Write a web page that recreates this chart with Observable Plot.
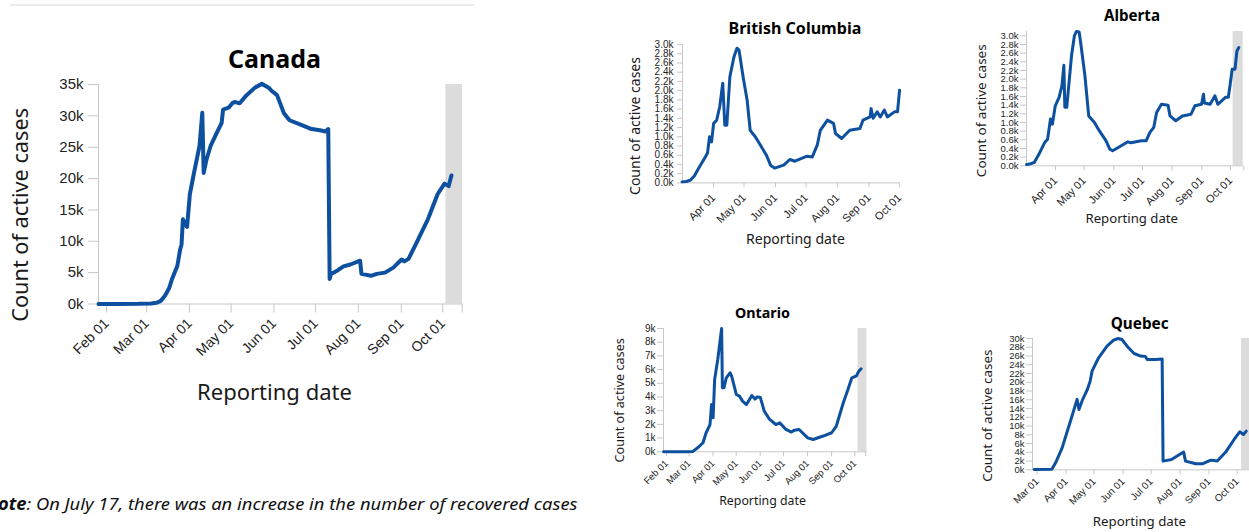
<!DOCTYPE html>
<html><head><meta charset="utf-8">
<script src="https://cdn.jsdelivr.net/npm/d3@7"></script>
<script src="https://cdn.jsdelivr.net/npm/@observablehq/plot@0.6"></script>
<style>
html,body{margin:0;padding:0;width:1249px;height:532px;overflow:hidden;background:#fff;position:relative}
.t{position:absolute;white-space:nowrap;line-height:1;transform-origin:center center}
svg g[aria-label$="-axis tick"]{stroke:#c8c8c8}
svg.plot{background:transparent !important}
</style></head><body>
<script>
// ---------- data ----------
const canadaDates = ["2020-02-01","2020-02-15","2020-03-01","2020-03-10","2020-03-14","2020-03-17","2020-03-20","2020-03-23","2020-03-25","2020-03-29","2020-03-31","2020-04-01","2020-04-02","2020-04-03","2020-04-05","2020-04-07","2020-04-10","2020-04-14","2020-04-16","2020-04-17","2020-04-19","2020-04-22","2020-04-26","2020-04-30","2020-05-01","2020-05-05","2020-05-08","2020-05-10","2020-05-13","2020-05-18","2020-05-24","2020-05-29","2020-06-03","2020-06-05","2020-06-09","2020-06-14","2020-06-18","2020-06-26","2020-07-04","2020-07-10","2020-07-14","2020-07-16","2020-07-17","2020-07-18","2020-07-23","2020-07-27","2020-08-01","2020-08-08","2020-08-09","2020-08-16","2020-08-20","2020-08-26","2020-09-01","2020-09-07","2020-09-09","2020-09-12","2020-09-19","2020-09-20","2020-09-26","2020-10-03","2020-10-08","2020-10-11","2020-10-13"];
const canadaCases = [4,7,24,80,200,500,1300,2500,3900,6100,8700,9500,13500,13000,12300,17500,20900,25200,30500,20900,23000,25200,27100,28900,31000,31300,32100,32200,32000,33300,34500,35100,34500,34000,33300,30400,29300,28600,27900,27700,27500,27900,4000,4800,5400,6000,6300,6900,4800,4500,4800,5000,5800,7100,6800,7200,10300,10800,13500,17500,19200,18800,20500];

const bcDates = ["2020-03-06","2020-03-10","2020-03-14","2020-03-18","2020-03-21","2020-03-24","2020-03-28","2020-03-31","2020-04-02","2020-04-04","2020-04-06","2020-04-09","2020-04-12","2020-04-15","2020-04-17","2020-04-19","2020-04-22","2020-04-26","2020-04-29","2020-05-01","2020-05-05","2020-05-09","2020-05-12","2020-05-17","2020-05-22","2020-05-28","2020-06-01","2020-06-05","2020-06-14","2020-06-20","2020-06-25","2020-07-07","2020-07-12","2020-07-17","2020-07-20","2020-07-27","2020-08-02","2020-08-04","2020-08-10","2020-08-18","2020-08-28","2020-08-31","2020-09-07","2020-09-08","2020-09-10","2020-09-14","2020-09-17","2020-09-21","2020-09-24","2020-10-01","2020-10-04","2020-10-06"];
const bcCases = [22,30,58,150,270,384,529,650,1000,890,1290,1360,1650,2160,1250,1250,2300,2730,2920,2880,2300,1790,1140,1000,820,600,384,320,384,507,470,578,560,817,1140,1360,1290,1070,963,1140,1180,1360,1430,1610,1400,1540,1430,1580,1430,1540,1540,2010];

const abDates = ["2020-03-07","2020-03-10","2020-03-15","2020-03-20","2020-03-26","2020-03-29","2020-04-01","2020-04-03","2020-04-06","2020-04-10","2020-04-13","2020-04-15","2020-04-16","2020-04-18","2020-04-23","2020-04-26","2020-04-28","2020-05-01","2020-05-03","2020-05-07","2020-05-11","2020-05-17","2020-05-22","2020-05-29","2020-06-02","2020-06-05","2020-06-14","2020-06-21","2020-06-24","2020-07-05","2020-07-10","2020-07-14","2020-07-18","2020-07-21","2020-07-26","2020-08-02","2020-08-04","2020-08-10","2020-08-17","2020-08-26","2020-08-30","2020-09-06","2020-09-08","2020-09-09","2020-09-15","2020-09-20","2020-09-23","2020-10-01","2020-10-04","2020-10-06","2020-10-08","2020-10-11","2020-10-13","2020-10-15"];
const abCases = [30,40,76,270,540,615,1080,960,1385,1580,1850,2320,1350,1350,2540,3000,3100,3090,2770,2080,1150,1000,810,580,385,346,462,554,530,577,577,770,885,1230,1420,1400,1150,1040,1150,1190,1385,1420,1650,1450,1420,1615,1420,1580,1580,1890,2230,2230,2650,2730];

const onDates = ["2020-02-01","2020-03-01","2020-03-10","2020-03-16","2020-03-23","2020-03-27","2020-04-01","2020-04-03","2020-04-05","2020-04-07","2020-04-11","2020-04-16","2020-04-17","2020-04-19","2020-04-22","2020-04-27","2020-04-29","2020-05-05","2020-05-09","2020-05-13","2020-05-18","2020-05-25","2020-05-29","2020-06-01","2020-06-05","2020-06-10","2020-06-17","2020-06-25","2020-06-30","2020-07-08","2020-07-15","2020-07-19","2020-07-25","2020-08-05","2020-08-12","2020-08-25","2020-09-05","2020-09-11","2020-09-20","2020-09-26","2020-10-01","2020-10-07","2020-10-10","2020-10-13"];
const onCases = [2,10,30,290,660,1390,1990,3450,2480,5280,6740,9000,4670,4670,5400,5770,5500,4180,4060,3700,3450,4110,3850,4010,3960,2970,2360,1990,2110,1630,1440,1580,1630,1020,900,1150,1390,1880,3580,4550,5400,5550,5890,6060];

const qcDates = ["2020-03-01","2020-03-20","2020-03-24","2020-03-31","2020-04-05","2020-04-10","2020-04-16","2020-04-18","2020-04-22","2020-04-27","2020-04-30","2020-05-02","2020-05-09","2020-05-18","2020-05-25","2020-05-30","2020-06-03","2020-06-10","2020-06-16","2020-06-23","2020-06-28","2020-06-30","2020-07-09","2020-07-16","2020-07-17","2020-07-26","2020-08-08","2020-08-10","2020-08-21","2020-08-28","2020-09-06","2020-09-13","2020-09-22","2020-10-01","2020-10-07","2020-10-11","2020-10-14"];
const qcCases = [50,150,1600,5000,8450,11900,16100,13800,16100,18350,20260,22550,25600,28260,29630,30000,29770,27870,26570,25980,25900,25200,25200,25300,1980,2360,4050,1980,1370,1370,2210,2000,4050,6930,8680,8070,8840];

const monthTicksFeb = ["2020-02-01","2020-03-01","2020-04-01","2020-05-01","2020-06-01","2020-07-01","2020-08-01","2020-09-01","2020-10-01"];
const monthTicksMar = ["2020-03-01","2020-04-01","2020-05-01","2020-06-01","2020-07-01","2020-08-01","2020-09-01","2020-10-01"];
const monthTicksApr = ["2020-04-01","2020-05-01","2020-06-01","2020-07-01","2020-08-01","2020-09-01","2020-10-01"];
const unlabeledTick = "2020-10-15";
const shadeStart = "2020-10-09";

const canadaYTicks = [0,5000,10000,15000,20000,25000,30000,35000];
const smallYTicks = [0,200,400,600,800,1000,1200,1400,1600,1800,2000,2200,2400,2600,2800,3000];
const onYTicks = [0,1000,2000,3000,4000,5000,6000,7000,8000,9000];
const qcYTicks = [0,2000,4000,6000,8000,10000,12000,14000,16000,18000,20000,22000,24000,26000,28000,30000];

const titles = {canada:"Canada", bc:"British Columbia", ab:"Alberta", on:"Ontario", qc:"Quebec"};
const xTitle = "Reporting date";
const yTitle = "Count of active cases";
const noteText = "On July 17, there was an increase in the number of recovered cases";

// ---------- drawing ----------
const LINE = "#0c509f";
const AXIS = "#c8c8c8";
const fmtDate = d3.utcFormat("%b %d");
const kFmt = d => (d/1000) + "k";
const k1Fmt = d => (d/1000).toFixed(1) + "k";

function drawChart(c) {
  const mL = 60, mT = 6, mR = 8, mB = 70;
  const fw = c.fx2 - c.fx1, fh = c.fy2 - c.fy1;
  const x0 = new Date(c.xDomain[0]), x1 = new Date(c.xDomain[1]);
  const data = c.dates.map((d, i) => ({date: new Date(d), value: c.values[i]}));
  const ticks = c.ticks.map(d => new Date(d));
  if (c.extraTick) ticks.push(new Date(unlabeledTick));
  const marks = [];
  if (c.shade) marks.push(Plot.rect([{x1: new Date(shadeStart), x2: x1, y1: 0, y2: c.yMax}],
    {x1: "x1", x2: "x2", y1: "y1", y2: "y2", fill: "#dcdcdc"}));
  marks.push(Plot.ruleY([0], {stroke: AXIS, strokeWidth: 1}));
  marks.push(Plot.ruleX([x0], {stroke: AXIS, strokeWidth: 1}));
  marks.push(Plot.axisY({ticks: c.yTicks, tickFormat: c.yFormat, tickSize: c.yTickSize, tickPadding: c.yTickPadding, label: null, fontSize: c.fontY}));
  marks.push(Plot.axisX({ticks, tickFormat: d => (+d === +new Date(unlabeledTick)) ? "" : fmtDate(d),
    tickRotate: -45, tickSize: c.xTickSize, tickPadding: c.xTickPadding, label: null, fontSize: c.fontX, dx: c.xdx}));
  marks.push(Plot.line(data, {x: "date", y: "value", stroke: LINE, strokeWidth: c.sw, strokeLinejoin: "round", strokeLinecap: "round"}));
  const svg = Plot.plot({
    width: fw + mL + mR, height: fh + mT + mB,
    marginLeft: mL, marginRight: mR, marginTop: mT, marginBottom: mB,
    x: {type: "utc", domain: [x0, x1]},
    y: {domain: [0, c.yMax]},
    style: {fontFamily: "'Liberation Sans', Arial, sans-serif", color: "#222", background: "transparent", overflow: "visible"},
    marks
  });
  svg.style.position = "absolute";
  svg.style.left = (c.fx1 - mL) + "px";
  svg.style.top = (c.fy1 - mT) + "px";
  svg.style.maxWidth = "none";
  document.body.appendChild(svg);
}

function addText(html, cx, cy, len, opts = {}) {
  const el = document.createElement("div");
  el.className = "t";
  el.innerHTML = html;
  el.style.fontFamily = opts.family || "'Noto Sans', 'Open Sans', sans-serif";
  el.style.fontWeight = opts.weight || 400;
  el.style.color = opts.color || "#1a1a1a";
  el.style.fontSize = "100px";
  document.body.appendChild(el);
  const w = el.offsetWidth;
  el.style.fontSize = (100 * len / w) + "px";
  const w2 = el.offsetWidth, h2 = el.offsetHeight;
  el.style.left = (cx - w2 / 2) + "px";
  el.style.top = (cy - h2 / 2) + "px";
  if (opts.rotate) el.style.transform = `rotate(${opts.rotate}deg)`;
}

const charts = [
  {dates: canadaDates, values: canadaCases, fx1: 97.5, fx2: 461.5, fy1: 83.5, fy2: 303, yMax: 35000,
   xDomain: ["2020-02-01", "2020-10-21"], ticks: monthTicksFeb, extraTick: true, shade: true,
   yTicks: canadaYTicks, yFormat: kFmt, fontY: 15, fontX: 14, yTickSize: 10, yTickPadding: 5, xTickSize: 9, xTickPadding: 8, xdx: 8, sw: 4},
  {dates: bcDates, values: bcCases, fx1: 682.3, fx2: 900, fy1: 44.3, fy2: 182.7, yMax: 3000,
   xDomain: ["2020-03-06T09:00Z", "2020-10-06T15:00Z"], ticks: monthTicksApr, extraTick: false, shade: false,
   yTicks: smallYTicks, yFormat: k1Fmt, fontY: 10, fontX: 11, yTickSize: 5, yTickPadding: 4, xTickSize: 5, xTickPadding: 8, xdx: 5, sw: 3},
  {dates: abDates, values: abCases, fx1: 1026, fx2: 1242.7, fy1: 30.7, fy2: 165, yMax: 3100,
   xDomain: ["2020-03-06T22:00Z", "2020-10-19T13:00Z"], ticks: monthTicksApr, extraTick: true, shade: true,
   yTicks: smallYTicks, yFormat: k1Fmt, fontY: 9.5, fontX: 11, yTickSize: 6, yTickPadding: 2, xTickSize: 5, xTickPadding: 8, xdx: 5, sw: 3},
  {dates: onDates, values: onCases, fx1: 663.3, fx2: 866.7, fy1: 327.7, fy2: 451, yMax: 9000,
   xDomain: ["2020-02-01", "2020-10-20T10:00Z"], ticks: monthTicksFeb, extraTick: true, shade: true,
   yTicks: onYTicks, yFormat: kFmt, fontY: 10, fontX: 9.5, yTickSize: 6, yTickPadding: 2, xTickSize: 5, xTickPadding: 5, xdx: 3, sw: 3},
  {dates: qcDates, values: qcCases, fx1: 1031.7, fx2: 1251, fy1: 337.7, fy2: 469, yMax: 30000,
   xDomain: ["2020-02-28T07:00Z", "2020-10-19T22:00Z"], ticks: monthTicksMar, extraTick: true, shade: true,
   yTicks: qcYTicks, yFormat: kFmt, fontY: 9.5, fontX: 10, yTickSize: 6, yTickPadding: 2, xTickSize: 5, xTickPadding: 5, xdx: 3, sw: 3}
];
charts.forEach(drawChart);

// separator line above Canada
const sep = document.createElement("div");
Object.assign(sep.style, {position: "absolute", left: "10px", top: "4px", width: "465px", height: "2px", background: "#ececec"});
document.body.appendChild(sep);

// titles
addText(titles.canada, 274.5, 58, 93, {weight: 700, color: "#000"});
addText(titles.bc, 795, 28, 133, {weight: 700, color: "#000"});
addText(titles.ab, 1132, 15.5, 56, {weight: 700, color: "#000"});
addText(titles.on, 762.5, 313, 55, {weight: 700, color: "#000"});
addText(titles.qc, 1139.7, 323, 58, {weight: 700, color: "#000"});
// x titles
addText(xTitle, 274.5, 391, 155);
addText(xTitle, 795.5, 238.5, 99);
addText(xTitle, 1132, 218.5, 92.6);
addText(xTitle, 762.7, 500.7, 86.7);
addText(xTitle, 1139.3, 521.7, 93.3);
// y titles
addText(yTitle, 20, 215, 214, {rotate: -90});
addText(yTitle, 635, 126, 138, {rotate: -90});
addText(yTitle, 981.7, 110, 133, {rotate: -90});
addText(yTitle, 620, 400.5, 124.3, {rotate: -90});
addText(yTitle, 987.7, 415.5, 132.4, {rotate: -90});

// note (left edge clipped by the page, as in the reference)
(function () {
  const el = document.createElement("div");
  el.className = "t";
  el.style.fontFamily = "'Noto Sans', sans-serif";
  el.style.fontStyle = "italic";
  el.style.fontSize = "17px";
  el.style.color = "#111";
  el.innerHTML = '<b><span id="nn">N</span>ote</b>: ' + noteText;
  document.body.appendChild(el);
  const W = el.offsetWidth, wN = document.getElementById("nn").offsetWidth;
  const s = 579 / (W - wN);
  el.style.transformOrigin = "0 50%";
  el.style.transform = `scaleX(${s})`;
  el.style.left = (-2 - wN * s) + "px";
  el.style.top = (503 - el.offsetHeight / 2) + "px";
})();
</script>
</body></html>
